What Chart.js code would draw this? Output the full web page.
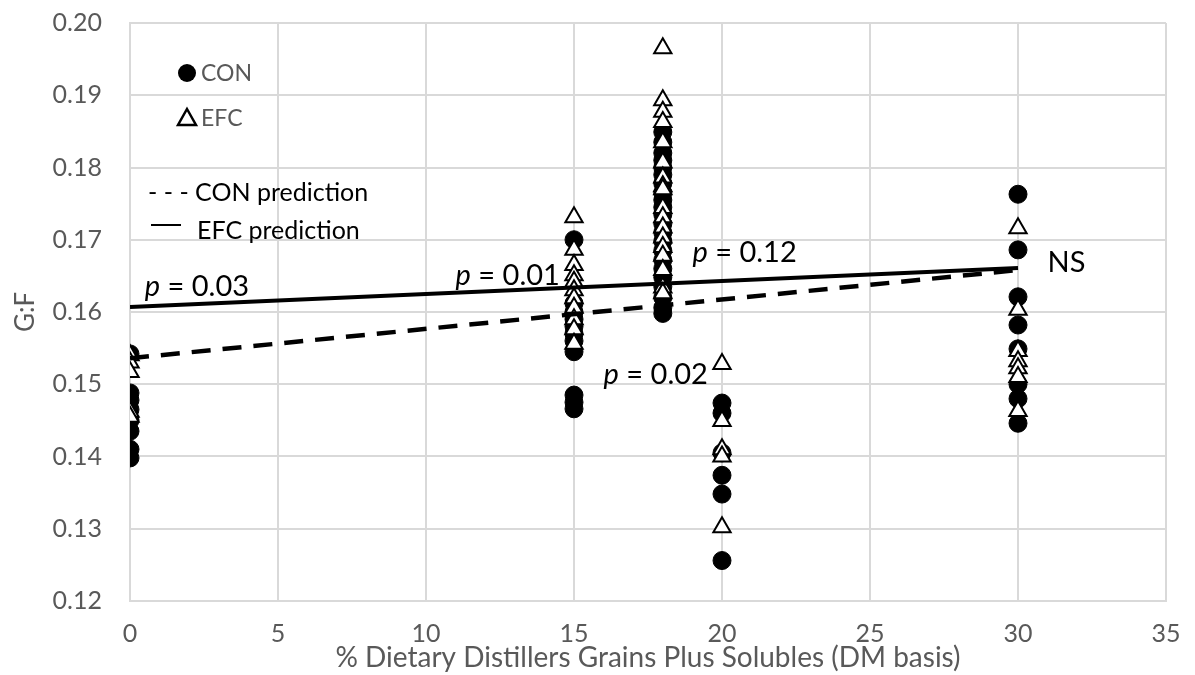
<!DOCTYPE html>
<html>
<head>
<meta charset="utf-8">
<script src="https://cdn.jsdelivr.net/npm/chart.js@4.4.1/dist/chart.umd.min.js"></script>
<style>
  html, body { margin: 0; padding: 0; background: #fff; }
  #wrap { width: 1195px; height: 675px; }
</style>
</head>
<body>
<div id="wrap"><canvas id="chart" width="1195" height="675"></canvas></div>
<script>
// % DDGS inclusion levels (x) and G:F values
const dietLevels = [0, 15, 18, 20, 30];

const conValues = [
  [0.1542, 0.1488, 0.1478, 0.1465, 0.1450, 0.1435, 0.1410, 0.1398],
  [0.1700, 0.1612, 0.1600, 0.1590, 0.1580, 0.1570, 0.1560, 0.1545, 0.1485, 0.1475, 0.1466],
  [0.1849, 0.1835, 0.1820, 0.1810, 0.1800, 0.1790, 0.1778, 0.1765, 0.1755, 0.1745, 0.1735,
   0.1722, 0.1710, 0.1698, 0.1685, 0.1672, 0.1660, 0.1648, 0.1635, 0.1620, 0.1606, 0.1598],
  [0.1474, 0.1460, 0.1405, 0.1374, 0.1348, 0.1256],
  [0.1763, 0.1686, 0.1621, 0.1582, 0.1549, 0.1500, 0.1480, 0.1446]
];

const efcValues = [
  [0.1540, 0.1530, 0.1517, 0.1462, 0.1455],
  [0.1731, 0.1686, 0.1665, 0.1651, 0.1642, 0.1630, 0.1619, 0.1606, 0.1590, 0.1576, 0.1556],
  [0.1965, 0.1893, 0.1877, 0.1863, 0.1835, 0.1807, 0.1786, 0.1774, 0.1770, 0.1744, 0.1731,
   0.1717, 0.1703, 0.1690, 0.1678, 0.1658, 0.1634, 0.1626],
  [0.1528, 0.1449, 0.1410, 0.1400, 0.1302],
  [0.1716, 0.1603, 0.1546, 0.1532, 0.1522, 0.1510, 0.1463]
];

const predictionX = [0, 30];
const conPrediction = [0.1536, 0.1658];
const efcPrediction = [0.1607, 0.1661];

const xTicks = [0, 5, 10, 15, 20, 25, 30, 35];
const yTicks = [0.12, 0.13, 0.14, 0.15, 0.16, 0.17, 0.18, 0.19, 0.20];

// p-value labels, anchored in data units (left edge, vertical middle)
const pLabels = [
  { x: 0.5, y: 0.1635, p: true, text: '0.03' },
  { x: 11.0, y: 0.1651, p: true, text: '0.01' },
  { x: 19.0, y: 0.1682, p: true, text: '0.12' },
  { x: 16.0, y: 0.1513, p: true, text: '0.02' },
  { x: 31.0, y: 0.1668, p: false, text: 'NS' }
];

const FONT = 'Lato, "Open Sans", sans-serif';
const GREY = '#595959';

function toPoints(values) {
  return values.flatMap((list, i) => list.map(v => ({ x: dietLevels[i], y: v })));
}

function toLine(xs, ys) {
  return xs.map((x, i) => ({ x: x, y: ys[i] }));
}

const overlayPlugin = {
  id: 'overlay',
  afterDatasetsDraw(chart) {
    const ctx = chart.ctx;
    const xs = chart.scales.x;
    const ys = chart.scales.y;
    ctx.save();

    // p-value annotations
    ctx.fillStyle = '#000';
    ctx.textBaseline = 'middle';
    ctx.textAlign = 'left';
    pLabels.forEach(lbl => {
      let px = xs.getPixelForValue(lbl.x);
      const py = ys.getPixelForValue(lbl.y);
      if (lbl.p) {
        ctx.font = 'italic 29px ' + FONT;
        ctx.fillText('p', px, py);
        px += ctx.measureText('p').width;
        ctx.font = '29px ' + FONT;
        ctx.fillText(' = ' + lbl.text, px, py);
      } else {
        ctx.font = '29px ' + FONT;
        ctx.fillText(lbl.text, px, py);
      }
    });

    // legend
    ctx.font = '23px ' + FONT;
    ctx.fillStyle = '#000';
    ctx.beginPath();
    ctx.arc(187, 73, 9, 0, Math.PI * 2);
    ctx.fill();
    ctx.fillStyle = GREY;
    ctx.fillText('CON', 201, 74);

    ctx.beginPath();
    ctx.moveTo(187, 109);
    ctx.lineTo(196, 125);
    ctx.lineTo(178, 125);
    ctx.closePath();
    ctx.fillStyle = '#fff';
    ctx.fill();
    ctx.lineWidth = 2.5;
    ctx.strokeStyle = '#000';
    ctx.stroke();
    ctx.fillStyle = GREY;
    ctx.fillText('EFC', 201, 119);

    ctx.font = '25px ' + FONT;
    ctx.fillStyle = '#000';
    ctx.fillText('- - - CON prediction', 148, 193);
    ctx.beginPath();
    ctx.moveTo(151, 225);
    ctx.lineTo(181, 225);
    ctx.lineWidth = 2;
    ctx.stroke();
    ctx.fillText('EFC prediction', 197, 231);

    ctx.restore();
  }
};

new Chart(document.getElementById('chart'), {
  type: 'scatter',
  data: {
    datasets: [
      {
        label: 'EFC prediction',
        type: 'line',
        data: toLine(predictionX, efcPrediction),
        borderColor: '#000',
        borderWidth: 4,
        pointRadius: 0,
        fill: false,
        order: 0
      },
      {
        label: 'CON prediction',
        type: 'line',
        data: toLine(predictionX, conPrediction),
        borderColor: '#000',
        borderWidth: 4.5,
        borderDash: [19, 12],
        pointRadius: 0,
        fill: false,
        order: 1
      },
      {
        label: 'EFC',
        data: toPoints(efcValues),
        pointStyle: 'triangle',
        pointRadius: 10,
        backgroundColor: '#fff',
        borderColor: '#000',
        borderWidth: 2,
        order: 2
      },
      {
        label: 'CON',
        data: toPoints(conValues),
        pointStyle: 'circle',
        pointRadius: 9,
        backgroundColor: '#000',
        borderColor: '#000',
        borderWidth: 1,
        order: 3
      }
    ]
  },
  options: {
    responsive: false,
    animation: false,
    layout: { padding: { left: 0, right: 29, top: 23, bottom: 0 } },
    plugins: {
      legend: { display: false },
      tooltip: { enabled: false }
    },
    scales: {
      x: {
        type: 'linear',
        min: 0,
        max: 35,
        afterFit: s => { s.height = 74; s.paddingLeft = 0; s.paddingRight = 0; },
        afterBuildTicks: s => { s.ticks = xTicks.map(v => ({ value: v })); },
        ticks: { color: GREY, font: { family: FONT, size: 25 }, padding: 18 },
        grid: { color: '#d9d9d9', lineWidth: 2, drawTicks: false },
        border: { color: '#d9d9d9', width: 2 },
        title: {
          display: true,
          text: '% Dietary Distillers Grains Plus Solubles (DM basis)',
          color: GREY,
          font: { family: FONT, size: 28 },
          padding: { top: 0, bottom: 0 }
        }
      },
      y: {
        type: 'linear',
        min: 0.12,
        max: 0.20,
        afterFit: s => { s.width = 130; s.paddingTop = 0; s.paddingBottom = 0; },
        afterBuildTicks: s => { s.ticks = yTicks.map(v => ({ value: v })); },
        ticks: {
          color: GREY,
          font: { family: FONT, size: 25 },
          padding: 28,
          callback: v => v.toFixed(2)
        },
        grid: { color: '#d9d9d9', lineWidth: 2, drawTicks: false },
        border: { color: '#d9d9d9', width: 2 },
        title: {
          display: true,
          text: 'G:F',
          color: GREY,
          font: { family: FONT, size: 26 },
          padding: { top: 10, bottom: 0 }
        }
      }
    }
  },
  plugins: [overlayPlugin]
});
</script>
</body>
</html>
